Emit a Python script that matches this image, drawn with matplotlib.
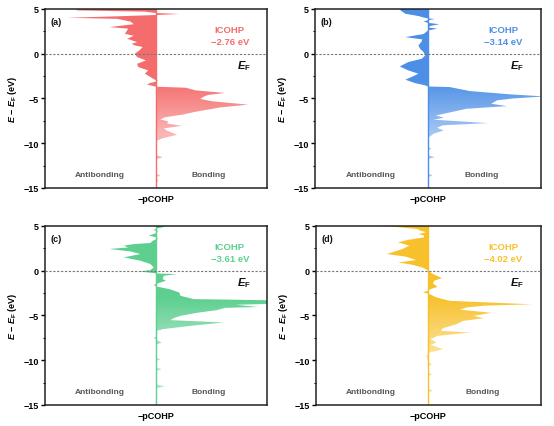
import numpy as np
import matplotlib
matplotlib.use("Agg")
import matplotlib.pyplot as plt
from matplotlib.colors import to_rgb
from matplotlib.ticker import MultipleLocator

plt.rcParams['font.family'] = ['Liberation Sans', 'DejaVu Sans']
plt.rcParams['font.weight'] = 'bold'
plt.rcParams['mathtext.fontset'] = 'custom'
plt.rcParams['mathtext.it'] = 'Liberation Sans:italic:bold'
plt.rcParams['mathtext.rm'] = 'Liberation Sans:bold'
plt.rcParams['mathtext.bf'] = 'Liberation Sans:bold'

# ---- data: (E - E_F [eV], -pCOHP [arb.]) ----
pts_a = [(5.0, -0.70), (4.85, -0.72), (4.7, -0.10), (4.55, 0.0), (4.44, 0.21), (4.33, 0.0),
         (4.2, -0.30), (4.02, -0.80), (3.9, -0.35), (3.6, -0.23), (3.3, -0.20), (2.98, -0.42),
         (2.8, -0.25), (2.23, -0.28), (2.0, -0.20), (1.68, -0.26), (1.3, -0.17), (1.1, -0.22),
         (0.93, -0.19), (0.75, -0.12), (0.37, -0.15), (0.0, -0.19), (-0.37, -0.17),
         (-0.75, -0.09), (-1.12, -0.17), (-1.49, -0.16), (-1.86, -0.07), (-2.23, -0.10),
         (-2.6, -0.05), (-2.9, -0.01), (-3.0, 0.02), (-3.1, 0.0), (-3.3, -0.06), (-3.45, -0.08),
         (-3.6, -0.03), (-3.68, 0.0), (-3.8, 0.27), (-4.1, 0.36), (-4.38, 0.62), (-4.6, 0.47),
         (-4.8, 0.43), (-5.05, 0.40), (-5.3, 0.50), (-5.69, 0.83), (-6.0, 0.58), (-6.5, 0.35),
         (-6.8, 0.24), (-7.1, 0.08), (-7.35, 0.04), (-7.55, 0.11), (-7.8, 0.10), (-8.05, 0.23),
         (-8.35, 0.07), (-8.6, 0.10), (-9.05, 0.19), (-9.45, 0.06), (-9.7, 0.01), (-11.3, 0.0),
         (-11.57, 0.06), (-11.8, 0.0), (-13.4, 0.0), (-13.6, 0.04), (-13.8, 0.0), (-14.2, 0.02),
         (-14.4, 0.0), (-15.0, 0.0)]

pts_b = [(5.0, -0.25), (4.8, -0.24), (4.47, -0.20), (4.2, -0.08), (4.05, -0.04), (3.95, 0.0),
         (3.88, 0.06), (3.75, 0.0), (3.6, -0.04), (3.45, 0.0), (3.3, 0.10), (3.1, 0.02),
         (2.95, 0.0), (2.8, 0.08), (2.6, 0.0), (2.2, -0.04), (1.86, -0.20), (1.6, -0.05),
         (1.3, -0.06), (0.93, -0.085), (0.56, -0.07), (0.19, -0.04), (-0.19, -0.025),
         (-0.56, -0.055), (-0.93, -0.175), (-1.42, -0.25), (-1.86, -0.175), (-2.23, -0.085),
         (-2.6, -0.145), (-2.9, -0.20), (-3.28, -0.115), (-3.54, -0.025), (-3.66, 0.0),
         (-3.72, 0.19), (-4.17, 0.37), (-4.54, 0.73), (-4.77, 1.03), (-5.0, 0.75), (-5.21, 0.61),
         (-5.59, 0.56), (-5.85, 0.70), (-6.15, 0.34), (-6.4, 0.25), (-6.9, 0.07), (-7.15, 0.14),
         (-7.37, 0.05), (-7.75, 0.53), (-8.0, 0.13), (-8.27, 0.08), (-8.57, 0.14), (-8.94, 0.05),
         (-9.3, 0.01), (-9.6, 0.0), (-10.4, 0.0), (-10.6, 0.03), (-10.8, 0.0), (-11.35, 0.0),
         (-11.55, 0.06), (-11.75, 0.0), (-13.4, 0.0), (-13.6, 0.04), (-13.8, 0.0), (-15.0, 0.0)]

pts_c = [(5.0, 0.09), (4.85, 0.06), (4.7, 0.0), (4.55, -0.02), (4.4, 0.02), (4.2, 0.0),
         (3.92, -0.065), (3.75, 0.0), (3.6, 0.02), (3.35, -0.03), (3.1, -0.05), (2.98, -0.20),
         (2.8, -0.29), (2.6, -0.25), (2.43, -0.42), (2.16, -0.23), (1.87, -0.14), (1.49, -0.29),
         (1.12, -0.14), (0.75, -0.05), (0.37, -0.02), (0.07, -0.05), (-0.07, -0.15),
         (-0.22, -0.05), (-0.3, 0.0), (-0.37, 0.19), (-0.56, 0.07), (-0.93, 0.06), (-1.12, 0.09),
         (-1.4, 0.02), (-1.6, -0.02), (-1.75, 0.0), (-2.05, 0.12), (-2.43, 0.21), (-2.8, 0.22),
         (-3.17, 0.34), (-3.3, 1.03), (-3.7, 1.03), (-3.8, 0.72), (-4.05, 0.92), (-4.15, 0.62),
         (-4.4, 0.55), (-4.7, 0.37), (-5.04, 0.22), (-5.3, 0.16), (-5.52, 0.13), (-5.78, 0.61),
         (-6.16, 0.31), (-6.53, 0.06), (-6.7, 0.01), (-7.3, 0.01), (-7.5, -0.02), (-7.7, 0.0),
         (-8.02, 0.05), (-8.3, 0.0), (-8.95, 0.01), (-9.7, 0.0), (-9.9, 0.04), (-10.1, 0.0),
         (-10.8, 0.0), (-11.0, 0.05), (-11.2, 0.0), (-12.7, 0.0), (-12.9, 0.08), (-13.15, 0.0),
         (-15.0, 0.0)]

pts_d = [(5.0, -0.46), (4.9, -0.30), (4.66, -0.10), (4.48, -0.07), (4.3, -0.02), (4.1, -0.085),
         (3.92, -0.04), (3.73, -0.04), (3.43, -0.19), (3.17, -0.27), (2.8, -0.17), (2.43, -0.23),
         (1.87, -0.37), (1.57, -0.20), (1.19, -0.11), (0.93, -0.27), (0.67, -0.145),
         (0.37, -0.055), (0.07, -0.01), (-0.1, 0.01), (-0.37, 0.04), (-0.82, 0.12),
         (-1.12, 0.05), (-1.42, 0.04), (-1.79, 0.08), (-2.05, 0.02), (-2.3, -0.02),
         (-2.43, -0.05), (-2.6, 0.01), (-2.98, 0.07), (-3.36, 0.19), (-3.75, 0.92), (-3.9, 0.5),
         (-4.1, 0.34), (-4.35, 0.28), (-4.7, 0.56), (-5.04, 0.40), (-5.3, 0.49), (-5.6, 0.31),
         (-5.97, 0.25), (-6.42, 0.13), (-6.72, 0.11), (-6.9, 0.37), (-7.28, 0.08), (-7.65, 0.02),
         (-8.02, 0.07), (-8.28, 0.02), (-8.77, 0.13), (-9.14, 0.01), (-9.5, -0.02), (-9.9, -0.01),
         (-10.2, 0.0), (-10.45, 0.03), (-10.7, 0.0), (-11.35, 0.0), (-11.57, 0.03), (-11.8, 0.0),
         (-13.2, 0.0), (-13.4, 0.04), (-13.6, 0.0), (-15.0, 0.0)]

panel_labels = ['(a)', '(b)', '(c)', '(d)']
icohp_values = ['\u22122.76 eV', '\u22123.14 eV', '\u22123.61 eV', '\u22124.02 eV']
colors = ['#F56C6C', '#4D8FE6', '#5DCF8F', '#F8C12C']
yticks = [5, 0, -5, -10, -15]
series = [pts_a, pts_b, pts_c, pts_d]

fig = plt.figure(figsize=(5.54, 4.27), dpi=100)
positions = [
    [0.0812, 0.5574, 0.4007, 0.4192],
    [0.5686, 0.5574, 0.4080, 0.4192],
    [0.0812, 0.0492, 0.4007, 0.4192],
    [0.5704, 0.0492, 0.4061, 0.4192],
]

XL = (-1.0, 1.0)
YL = (-15, 5)

for pos, pts, lab, ic, col in zip(positions, series, panel_labels, icohp_values, colors):
    ax = fig.add_axes(pos)
    E = np.array([p[0] for p in pts])
    v = np.array([p[1] for p in pts])
    poly = ax.fill_betweenx(E, 0, v, facecolor='none', edgecolor='none')
    # vertical gradient (style)
    gy = np.linspace(YL[1], YL[0], 300)
    alpha = np.interp(gy, [-9.0, -3.0], [0.5, 1.0])
    img = np.zeros((300, 1, 4))
    img[..., :3] = to_rgb(col)
    img[..., 3] = alpha[:, None]
    im = ax.imshow(img, extent=[XL[0], XL[1], YL[0], YL[1]], aspect='auto',
                   origin='upper', zorder=1, interpolation='bilinear')
    im.set_clip_path(poly.get_paths()[0], transform=ax.transData)
    ax.axvline(0, color=col, lw=1.0, zorder=2)
    ax.axhline(0, color='#777777', lw=0.8, ls=(0, (2, 1.5)), zorder=3)
    ax.set_xlim(*XL)
    ax.set_ylim(*YL)
    ax.set_xticks([])
    ax.set_yticks(yticks)
    ax.yaxis.set_minor_locator(MultipleLocator(2.5))
    ax.tick_params(axis='y', which='major', direction='out', length=3, width=1,
                   labelsize=6.5, pad=1.5)
    ax.tick_params(axis='y', which='minor', direction='out', length=1.5, width=0.8)
    for lbl in ax.get_yticklabels():
        lbl.set_fontweight('bold')
    for s in ax.spines.values():
        s.set_linewidth(1.1)
        s.set_color('#222222')
    ax.set_xlabel('\u2212pCOHP', fontsize=6.5, fontweight='bold', labelpad=4)
    ax.set_ylabel(r'$E$ \u2212 $E_{\mathrm{F}}$ (eV)'.replace('\\u2212', '\u2212'),
                  fontsize=6.5, fontweight='bold', labelpad=3)
    ax.text(0.025, 0.93, lab, transform=ax.transAxes, fontsize=6.5, fontweight='bold',
            ha='left', va='center', color='#111111')
    ax.text(0.833, 0.888, 'ICOHP', transform=ax.transAxes, fontsize=6.8, fontweight='bold',
            ha='center', va='center', color=col)
    ax.text(0.833, 0.82, ic, transform=ax.transAxes, fontsize=6.8, fontweight='bold',
            ha='center', va='center', color=col)
    ax.text(0.895, 0.685, r'$E_{\mathrm{F}}$', transform=ax.transAxes, fontsize=8,
            ha='center', va='center', color='#111111')
    ax.text(0.245, 0.078, 'Antibonding', transform=ax.transAxes, fontsize=6,
            fontweight='bold', ha='center', va='center', color='#555555')
    ax.text(0.739, 0.078, 'Bonding', transform=ax.transAxes, fontsize=6,
            fontweight='bold', ha='center', va='center', color='#555555')

fig.savefig('out.png', dpi=100)
